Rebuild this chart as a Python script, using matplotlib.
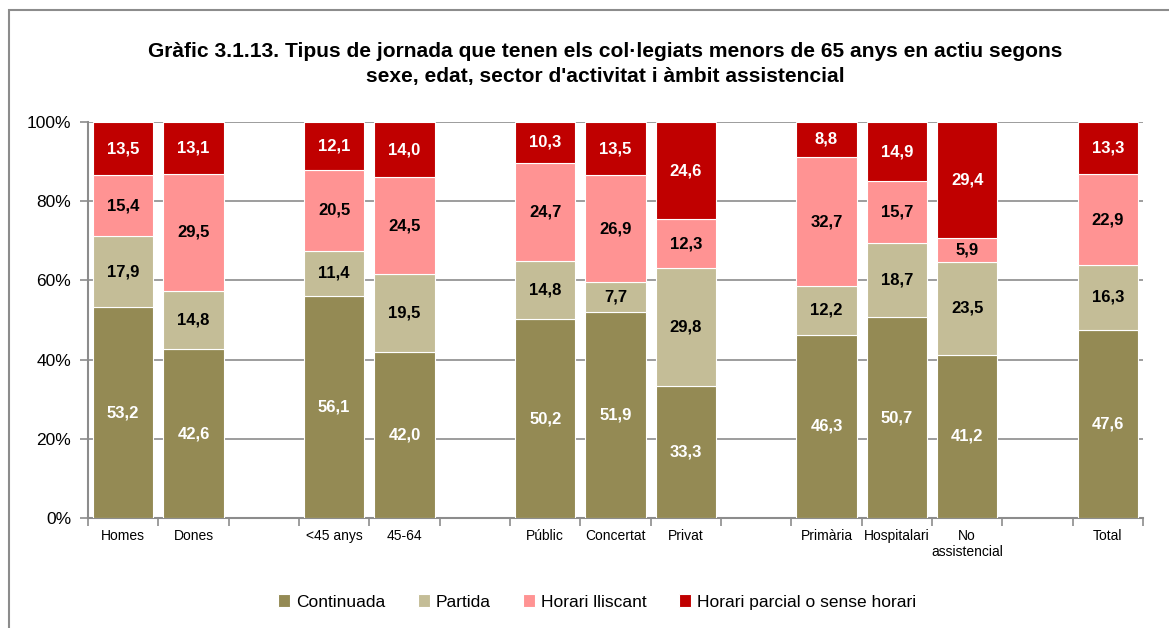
import matplotlib
matplotlib.use("Agg")
import matplotlib.pyplot as plt
from matplotlib.patches import Rectangle
from matplotlib.font_manager import fontManager

names = {f.name for f in fontManager.ttflist}
FAM = ['Liberation Sans Narrow', 'Liberation Sans', 'DejaVu Sans'] if 'Liberation Sans Narrow' in names else ['Liberation Sans', 'DejaVu Sans']
plt.rcParams['font.family'] = FAM

categories = ["Homes", "Dones", "<45 anys", "45-64", "Públic", "Concertat", "Privat",
              "Primària", "Hospitalari", "No\nassistencial", "Total"]
slots = [0, 1, 3, 4, 6, 7, 8, 10, 11, 12, 14]
continuada = [53.2, 42.6, 56.1, 42.0, 50.2, 51.9, 33.3, 46.3, 50.7, 41.2, 47.6]
partida = [17.9, 14.8, 11.4, 19.5, 14.8, 7.7, 29.8, 12.2, 18.7, 23.5, 16.3]
lliscant = [15.4, 29.5, 20.5, 24.5, 24.7, 26.9, 12.3, 32.7, 15.7, 5.9, 22.9]
parcial = [13.5, 13.1, 12.1, 14.0, 10.3, 13.5, 24.6, 8.8, 14.9, 29.4, 13.3]
series_names = ["Continuada", "Partida", "Horari lliscant", "Horari parcial o sense horari"]
colors = ["#948A54", "#C4BD97", "#FF9393", "#C00000"]
label_colors = ["white", "black", "black", "white"]

fig = plt.figure(figsize=(11.69, 6.28), dpi=100)
ax = fig.add_axes([88/1169, 1-518/628, (1143-88)/1169, (518-122)/628])

fig.patches.append(Rectangle((9/1169, -0.1), 1.2, 1-10/628+0.1, transform=fig.transFigure,
                             fill=False, edgecolor="#8c8c8c", linewidth=1.5, zorder=0))

bottoms = [0.0]*len(slots)
handles = []
for vals, col, lc, nm in zip([continuada, partida, lliscant, parcial], colors, label_colors, series_names):
    bars = ax.bar(slots, vals, width=0.86, bottom=bottoms, color=col, edgecolor="white",
                  linewidth=0.8, zorder=3, label=nm)
    handles.append(bars)
    for x, b, v in zip(slots, bottoms, vals):
        ax.text(x, b + v/2, f"{v:.1f}".replace(".", ","), ha="center", va="center",
                color=lc, fontsize=12, fontweight="bold", zorder=4)
    bottoms = [b + v for b, v in zip(bottoms, vals)]

ax.set_xlim(-0.5, 14.5)
ax.set_ylim(0, 100)
ax.set_yticks(range(0, 101, 20))
ax.set_yticklabels([f"{v}%" for v in range(0, 101, 20)], fontsize=12.5)
ax.yaxis.grid(True, color="#8c8c8c", linewidth=1.2, zorder=0)
ax.set_axisbelow(True)
ax.tick_params(axis="y", length=6, width=1.2, color="#8c8c8c", pad=6)

ax.set_xticks(slots)
ax.set_xticklabels(categories, fontsize=10)
ax.set_xticks([i - 0.5 for i in range(16)], minor=True)
ax.tick_params(axis="x", which="major", length=0, pad=8)
ax.tick_params(axis="x", which="minor", length=6, width=1.2, color="#8c8c8c")

for s in ["top", "right"]:
    ax.spines[s].set_visible(False)
for s in ["left", "bottom"]:
    ax.spines[s].set_color("#8c8c8c")
    ax.spines[s].set_linewidth(1.5)

fig.text(0.518, 1-64/628, "Gràfic 3.1.13. Tipus de jornada que tenen els col·legiats menors de 65 anys en actiu segons\nsexe, edat, sector d'activitat i àmbit assistencial",
         ha="center", va="center", fontsize=15.1, fontweight="bold", linespacing=1.4)

fig.legend(handles=handles, labels=series_names, loc="center", bbox_to_anchor=(597/1169, 1-602/628),
           ncol=4, frameon=False, fontsize=12.5, handlelength=0.7, handleheight=0.7,
           handletextpad=0.3, columnspacing=1.9)

fig.savefig("out.png", dpi=100)
